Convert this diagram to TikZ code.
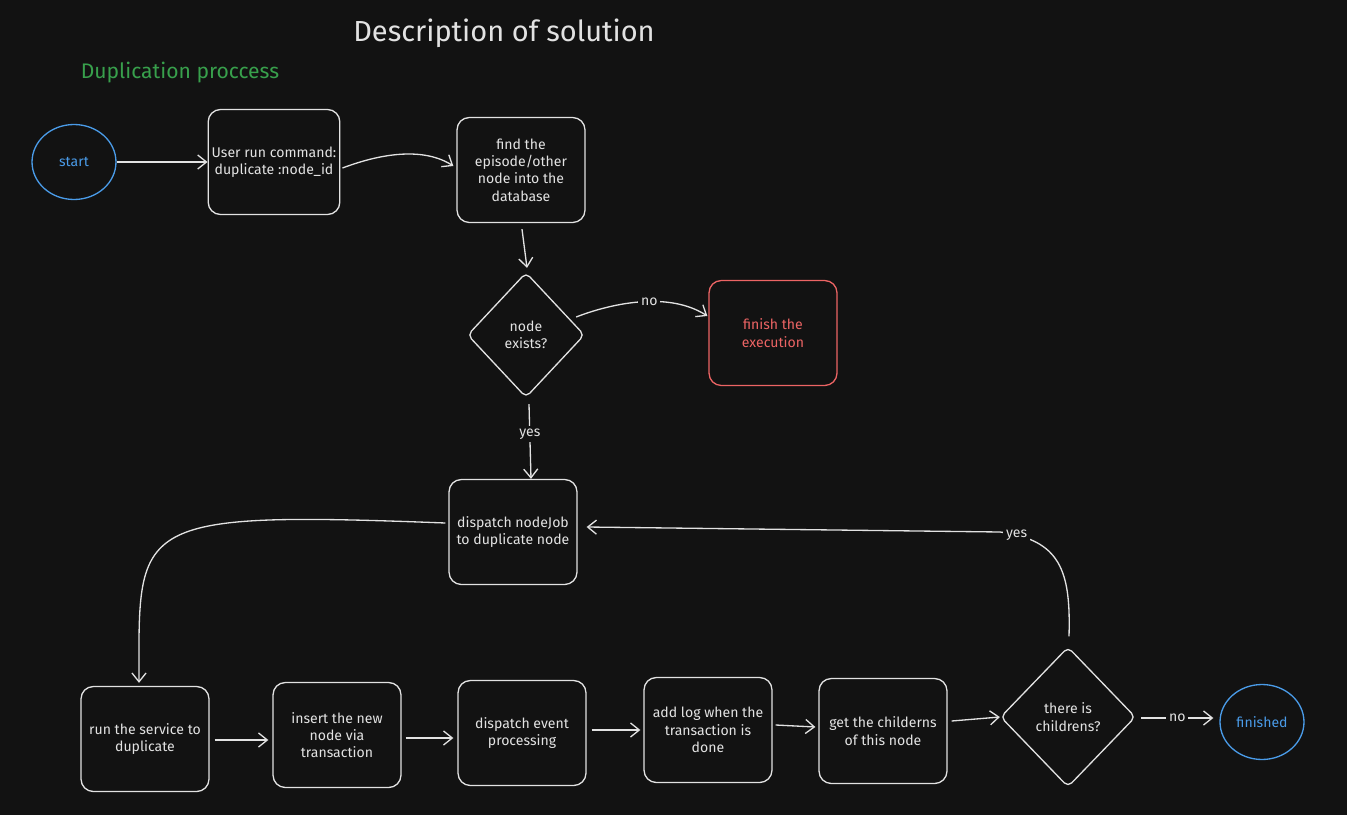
\documentclass[tikz,border=0pt]{standalone}
\usepackage{fontspec}
\setmainfont{Fira Sans}
\usetikzlibrary{positioning, arrows.meta, calc, shapes.geometric}

\definecolor{canvas}{RGB}{18,18,18}
\definecolor{ink}{RGB}{226,226,226}
\definecolor{skyblue}{RGB}{74,155,232}
\definecolor{alertred}{RGB}{236,100,100}
\definecolor{leafgreen}{RGB}{56,160,76}

\begin{document}
\begin{tikzpicture}[
  x=0.02cm, y=-0.02cm,
  base/.style={
    minimum width=2.56cm, minimum height=2.1cm,
    inner sep=2pt, align=center,
    font=\fontsize{8}{9.8}\selectfont,
    line width=0.75pt, text=ink,
  },
  stepbox/.style={base, draw=ink, rounded corners=7pt},
  stopbox/.style={stepbox, draw=alertred, text=alertred},
  choice/.style={base, diamond, draw=ink, rounded corners=3pt,
    inner sep=0pt},
  terminal/.style={base, ellipse, draw=skyblue, text=skyblue,
    minimum width=1.68cm, minimum height=1.5cm},
  titlelbl/.style={font=\fontsize{16.5}{19}\selectfont, text=ink},
  sectionlbl/.style={font=\fontsize{12}{14}\selectfont, text=leafgreen},
  edgelbl/.style={font=\fontsize{8}{9}\selectfont, text=ink,
    fill=canvas, inner sep=1.5pt},
  flowarr/.style={-{Straight Barb[length=5pt, width=8pt]},
    line width=0.75pt, draw=ink},
]

% ---- Canvas ----
\fill[canvas] (0,0) rectangle (1347,815);

% ---- Headings ----
\node[titlelbl] (title) at (504,33) {Description of solution};
\node[sectionlbl] (section) at (180,73) {Duplication proccess};

% ======== Upper flow ========
\node[terminal] (start) at (74,162) {start};
\node[stepbox] (cmd) at (274,162) {User run command:\\duplicate :node\_id};
\node[stepbox] (find) at (521,170) {find the\\episode/other\\node into the\\database};
\node[choice, minimum width=2.34cm, minimum height=2.5cm]
  (exists) at (526,335) {node\\exists?};
\node[stopbox] (finish) at (773,333) {finish the\\execution};
\node[stepbox] (dispatch) at (513,532) {dispatch nodeJob\\to duplicate node};

% ======== Lower flow ========
\node[stepbox] (service) at (145,739) {run the service to\\duplicate};
\node[stepbox] (insert) at (337,735) {insert the new\\node via\\transaction};
\node[stepbox] (event) at (522,733) {dispatch event\\processing};
\node[stepbox] (addlog) at (708,730) {add log when the\\transaction is\\done};
\node[stepbox] (kids) at (883,731) {get the childerns\\of this node};
\node[choice, minimum width=2.7cm, minimum height=2.8cm]
  (haskids) at (1068,717) {there is\\childrens?};
\node[terminal] (finished) at (1262,722) {finished};

% ======== Connectors ========
\draw[flowarr] (start.east) -- (cmd.west);
\draw[flowarr] ($(cmd.east)+(2,6)$) .. controls (385,152) and (425,148)
  .. ($(find.west)+(-3,-4)$);
\draw[flowarr] ($(find.south)+(1,6)$) -- ($(exists.north)+(1,-4)$);
\draw[flowarr] ($(exists.east)+(-9,-18)$) .. controls (615,302) and (670,292)
  .. node[edgelbl, pos=0.55] {no} ($(finish.west)+(-1,-17)$);
\draw[flowarr] ($(exists.south)+(3,6)$) --
  node[edgelbl, pos=0.4] {yes} ($(dispatch.north)+(18,0)$);
\draw[flowarr] ($(dispatch.west)+(-3,-9)$) .. controls (160,512) and (140,520)
  .. (139,640) -- ($(service.north)+(-6,-3)$);

\draw[flowarr] ($(service.east)+(5,1)$) -- ($(insert.west |- service.east)+(-4,1)$);
\draw[flowarr] ($(insert.east)+(4,3)$) -- ($(event.west |- insert.east)+(-4,3)$);
\draw[flowarr] ($(event.east)+(5,-3)$) -- ($(addlog.west |- event.east)+(-3,-3)$);
\draw[flowarr] ($(addlog.east)+(3,-5)$) -- ($(kids.west)+(-3,-4)$);
\draw[flowarr] ($(kids.east)+(4,-10)$) -- (haskids.west);
\draw[flowarr] ($(haskids.east)+(5,1)$) --
  node[edgelbl] {no} ($(finished.west |- haskids.east)+(-6,1)$);

% ---- Loop back ----
\draw[flowarr] ($(haskids.north)+(1,-10)$) .. controls (1071,570) and (1060,540)
  .. node[edgelbl, pos=0.9] {yes} (1000,532) -- ($(dispatch.east)+(9,-5)$);

\end{tikzpicture}
\end{document}
